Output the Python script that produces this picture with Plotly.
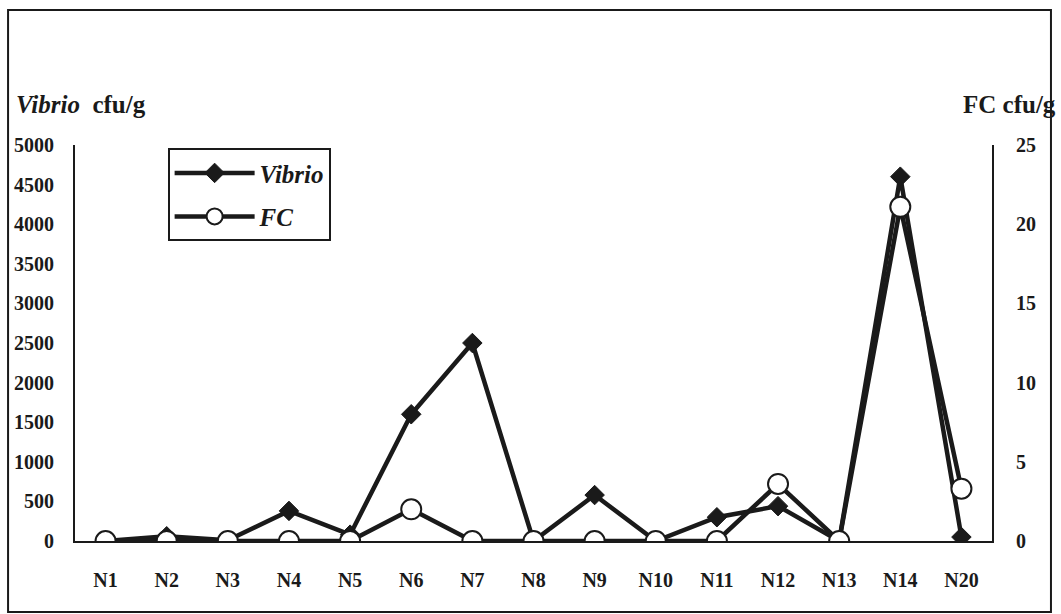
import plotly.graph_objects as go

categories = ["N1", "N2", "N3", "N4", "N5", "N6", "N7", "N8", "N9", "N10", "N11", "N12", "N13", "N14", "N20"]
vibrio = [0, 60, 10, 380, 80, 1600, 2500, 0, 580, 0, 300, 440, 0, 4600, 50]
fc = [0, 0, 0, 0, 0, 2.0, 0, 0, 0, 0, 0, 3.6, 0, 21.1, 3.3]
left_ticks = [0, 500, 1000, 1500, 2000, 2500, 3000, 3500, 4000, 4500, 5000]
right_ticks = [0, 5, 10, 15, 20, 25]

FONT = "Liberation Serif"
INK = "#1a1a1a"

fig = go.Figure()
fig.add_trace(go.Scatter(
    x=categories, y=vibrio, name="<b><i>Vibrio</i></b>", mode="lines+markers",
    legendgroup="v",
    line=dict(color=INK, width=4.5),
    marker=dict(symbol="diamond", size=15, color=INK, line=dict(color=INK, width=1)),
    yaxis="y"))
fig.add_trace(go.Scatter(
    x=categories, y=fc, name="<b><i>FC</i></b>", mode="lines+markers",
    legendgroup="f",
    line=dict(color=INK, width=4.5),
    marker=dict(symbol="circle", size=20, color="white", line=dict(color=INK, width=2)),
    yaxis="y2"))

tick_font = dict(family=FONT, size=20, color=INK, weight="bold")

fig.update_layout(
    width=1061, height=614,
    margin=dict(l=75, r=69, t=145, b=73),
    paper_bgcolor="white", plot_bgcolor="white",
    font=dict(family=FONT, size=20, color=INK),
    showlegend=True,
    legend=dict(x=0.101, y=0.992, xanchor="left", yanchor="top",
                bordercolor=INK, borderwidth=2, bgcolor="white",
                font=dict(family=FONT, size=25, color=INK),
                itemwidth=80, traceorder="grouped", tracegroupgap=8),
    xaxis=dict(type="category", range=[-0.5, 14.5], showgrid=False,
               showline=True, linecolor=INK, linewidth=2, ticks="",
               tickfont=tick_font, ticklabelstandoff=20, zeroline=False),
    yaxis=dict(range=[0, 5000], tickvals=left_ticks, showgrid=False,
               showline=True, linecolor=INK, linewidth=2, ticks="",
               tickfont=tick_font, ticklabelstandoff=15, zeroline=False),
    yaxis2=dict(range=[0, 25], tickvals=right_ticks, overlaying="y", side="right",
                showgrid=False, showline=True, linecolor=INK, linewidth=2, ticks="",
                tickfont=tick_font, ticklabelstandoff=18, zeroline=False),
    shapes=[dict(type="rect", xref="paper", yref="paper",
                 x0=-0.073, x1=1.0643, y0=-0.179, y1=1.341,
                 line=dict(color=INK, width=2), fillcolor="rgba(0,0,0,0)", layer="below")],
    annotations=[
        dict(text="<b><i>Vibrio</i>  cfu/g</b>", xref="paper", yref="paper",
             x=-0.066, y=1.1035, xanchor="left", yanchor="middle", showarrow=False,
             font=dict(family=FONT, size=25, color=INK)),
        dict(text="<b>FC cfu/g</b>", xref="paper", yref="paper",
             x=1.072, y=1.1035, xanchor="right", yanchor="middle", showarrow=False,
             font=dict(family=FONT, size=25, color=INK)),
    ],
)

fig.write_html("out.html", config={"displayModeBar": False},
               post_script="document.body.style.margin='0';document.body.style.overflow='hidden';")
